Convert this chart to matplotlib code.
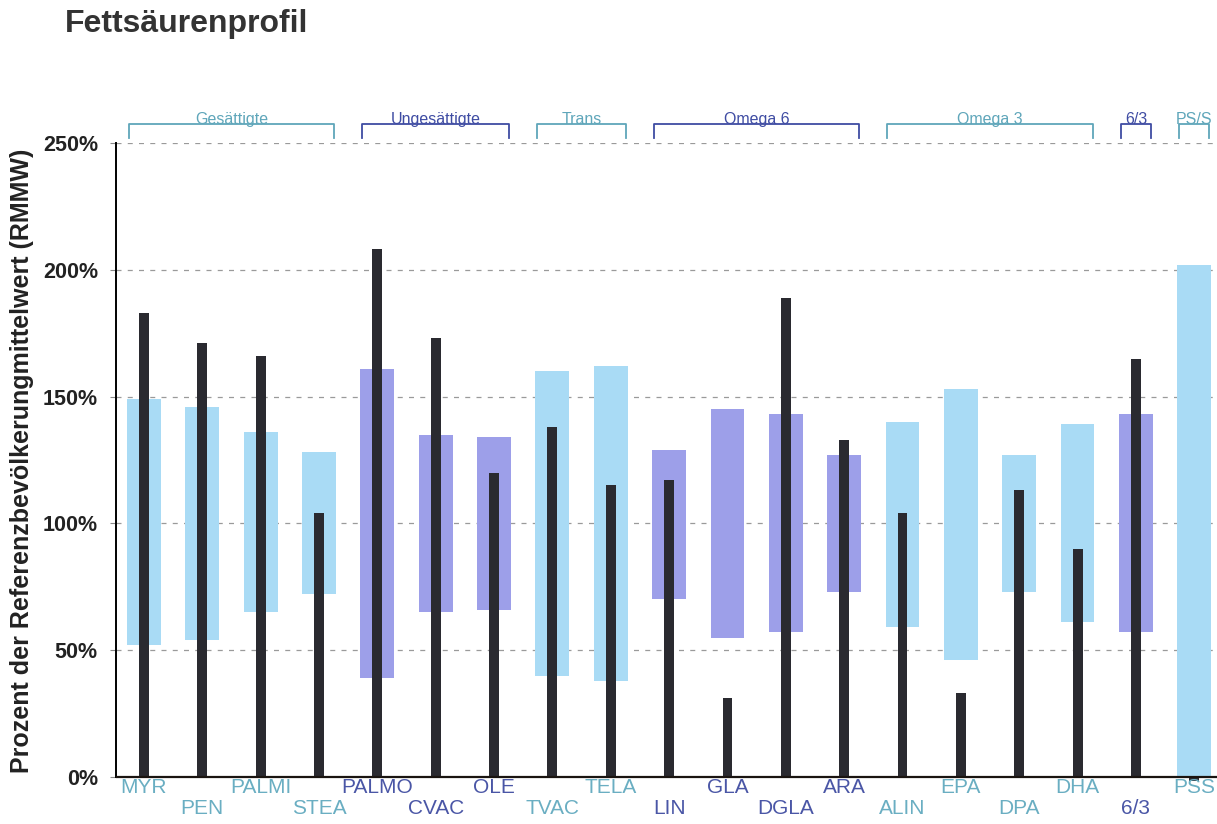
import numpy as np
import matplotlib.pyplot as plt

# Fettsaeurenprofil - Referenzbereich (Kasten) und Patientenwert (schwarzer Balken)
labels = ["MYR", "PEN", "PALMI", "STEA", "PALMO", "CVAC", "OLE", "TVAC", "TELA",
          "LIN", "GLA", "DGLA", "ARA", "ALIN", "EPA", "DPA", "DHA", "6/3", "PSS"]
ref_low = [52, 54, 65, 72, 39, 65, 66, 40, 38, 70, 55, 57, 73, 59, 46, 73, 61, 57, 0]
ref_high = [149, 146, 136, 128, 161, 135, 134, 160, 162, 129, 145, 143, 127, 140, 153, 127, 139, 143, 202]
patient = [183, 171, 166, 104, 208, 173, 120, 138, 115, 117, 31, 189, 133, 104, 33, 113, 90, 165, -1.5]

group_names = ["Gesättigte", "Ungesättigte", "Trans", "Omega 6", "Omega 3", "6/3", "PS/S"]
group_first = [0, 4, 7, 9, 13, 17, 18]
group_last = [3, 6, 8, 12, 16, 17, 18]
group_kind = [0, 1, 0, 1, 0, 1, 0]   # 0 = hellblau, 1 = lila

box_col = ["#a9dbf5", "#9d9fe9"]
text_col = ["#6aaec2", "#4a56a6"]
bracket_col = ["#5fa6ba", "#3f4ca3"]

font = ["Liberation Sans", "DejaVu Sans"]

kind = np.zeros(len(labels), dtype=int)
for g in range(len(group_names)):
    kind[group_first[g]:group_last[g] + 1] = group_kind[g]

x = np.arange(len(labels))
low = np.array(ref_low)
high = np.array(ref_high)

fig = plt.figure(figsize=(12.17, 8.24), dpi=100)
ax = fig.add_axes([0.0953, 0.0478, 0.9047, 0.7787])

for v in [50, 100, 150, 200, 250]:
    ax.axhline(v, color="#9a9a9a", lw=0.9, ls=(0, (4, 5)), zorder=0)

ax.bar(x, high - low, bottom=low, width=0.58,
       color=[box_col[k] for k in kind], zorder=1)
ax.bar(x, patient, width=0.17, color="#2a2a30", zorder=2)
ax.axhline(0, color="#1a1410", lw=1.6, zorder=3)

ax.set_xlim(-0.48, 18.39)
ax.set_ylim(-3, 250)
for s in ["top", "right", "bottom"]:
    ax.spines[s].set_visible(False)
ax.spines["left"].set_bounds(0, 250)
ax.spines["left"].set_linewidth(1.4)

ax.set_yticks([0, 50, 100, 150, 200, 250])
ax.set_yticklabels(["0%", "50%", "100%", "150%", "200%", "250%"])
for t in ax.get_yticklabels():
    t.set_family(font)
    t.set_fontweight("bold")
    t.set_fontsize(15.5)
    t.set_color("#222222")
ax.tick_params(axis="y", length=4, width=0.8, color="#888888", pad=9)
ax.set_xticks([])

# Kategorienamen in zwei Reihen
for i in range(len(labels)):
    yy = -4.3 if i % 2 == 0 else -12.6
    ax.text(x[i], yy, labels[i], ha="center", va="center", fontsize=15,
            family=font, color=text_col[kind[i]], clip_on=False)

# Gruppenklammern oben
for g in range(len(group_names)):
    x0 = group_first[g] - 0.26
    x1 = group_last[g] + 0.26
    c = bracket_col[group_kind[g]]
    ax.plot([x0, x0, x1, x1], [252, 257.3, 257.3, 252], color=c, lw=1.3,
            clip_on=False)
    ax.text((x0 + x1) / 2, 257.6, group_names[g], ha="center", va="baseline",
            fontsize=11.5, family=font, color=c, clip_on=False)

fig.text(0.018, 0.441, "Prozent der Referenzbevölkerungmittelwert (RMMW)",
         rotation=90, ha="center", va="center", fontsize=18, fontweight="bold",
         family=font, color="#222222")
fig.text(0.053, 0.961, "Fettsäurenprofil", ha="left", va="baseline",
         fontsize=23, fontweight="bold", family=font, color="#333333")

plt.savefig("out.png", dpi=100)
